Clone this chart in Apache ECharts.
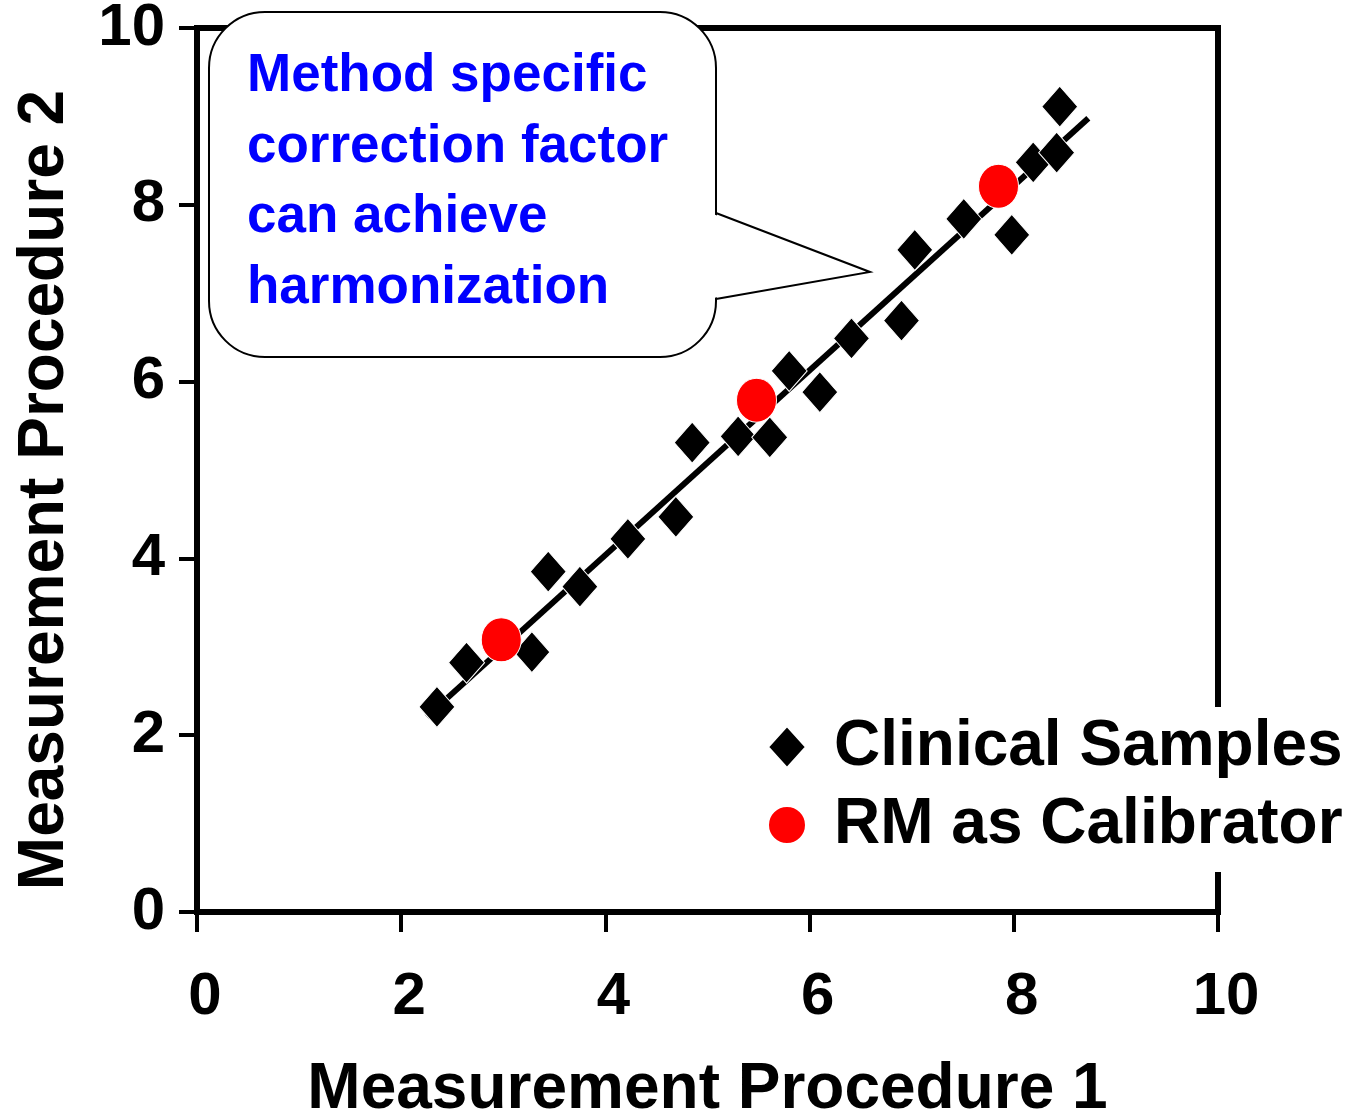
<!DOCTYPE html>
<html><head><meta charset="utf-8">
<script src="https://cdn.jsdelivr.net/npm/echarts@6/dist/echarts.min.js"></script>
<style>html,body{margin:0;padding:0;background:#fff}#c{width:1349px;height:1115px}</style>
</head><body><div id="c"></div>
<script>
const clinicalX = [2.35, 2.64, 3.28, 3.44, 3.75, 4.22, 4.69, 4.85, 5.30, 5.61, 5.80, 6.10, 6.41, 6.90, 7.03, 7.51, 7.98, 8.19, 8.42, 8.45];
const clinicalY = [2.32, 2.82, 2.94, 3.85, 3.68, 4.22, 4.47, 5.31, 5.38, 5.37, 6.12, 5.88, 6.49, 6.69, 7.49, 7.84, 7.66, 8.48, 8.59, 9.11];
const rmX = [2.98, 5.48, 7.85];
const rmY = [3.08, 5.79, 8.21];
const fitX = [2.25, 8.73];
const fitY = [2.21, 8.98];
const axisMin = 0, axisMax = 10, axisStep = 2;
const xTitle = 'Measurement Procedure 1';
const yTitle = 'Measurement Procedure 2';
const seriesNames = ['Clinical Samples', 'RM as Calibrator'];
const calloutLines = ['Method specific', 'correction factor', 'can achieve', 'harmonization'];

const FONT = '"Liberation Sans", Arial, sans-serif';
const zip = (a, b) => a.map((v, i) => [v, b[i]]);
const ellipse = 'path://M50,0A50,50,0,1,1,50,100A50,50,0,1,1,50,0Z';

const chart = echarts.init(document.getElementById('c'), null, {renderer: 'canvas'});
const bx0 = 209, bx1 = 716, by0 = 12, by1 = 357;

chart.setOption({
  animation: false,
  backgroundColor: '#fff',
  textStyle: {fontFamily: FONT},
  grid: {left: 197, right: 131, top: 28, bottom: 203, outerBoundsMode: 'none', containLabel: false, show: true, borderColor: '#000', borderWidth: 6, backgroundColor: 'transparent'},
  xAxis: {
    type: 'value', min: axisMin, max: axisMax, interval: axisStep,
    name: xTitle, nameLocation: 'middle', nameGap: 146,
    nameTextStyle: {fontSize: 64, fontWeight: 'bold', color: '#000', fontFamily: FONT},
    axisLine: {show: true, onZero: false, lineStyle: {color: '#000', width: 6}},
    axisTick: {show: true, length: 20, lineStyle: {color: '#000', width: 4}},
    axisLabel: {fontSize: 60, fontWeight: 'bold', color: '#000', margin: 55, fontFamily: FONT, padding: [0, 0, 0, 16]},
    splitLine: {show: false}
  },
  yAxis: {
    type: 'value', min: axisMin, max: axisMax, interval: axisStep,
    name: yTitle, nameLocation: 'middle', nameGap: 120,
    nameTextStyle: {fontSize: 64, fontWeight: 'bold', color: '#000', fontFamily: FONT, padding: [0, 40, 0, 0]},
    axisLine: {show: true, onZero: false, lineStyle: {color: '#000', width: 6}},
    axisTick: {show: true, length: 18, lineStyle: {color: '#000', width: 4}},
    axisLabel: {fontSize: 60, fontWeight: 'bold', color: '#000', margin: 32, fontFamily: FONT},
    splitLine: {show: false}
  },
  legend: {
    orient: 'vertical', left: 767, top: 707,
    itemWidth: 38, itemHeight: 42, itemGap: 14,
    padding: [8, 9, 15, 0],
    backgroundColor: '#fff',
    selectedMode: false,
    textStyle: {fontSize: 64, fontWeight: 'bold', color: '#000', fontFamily: FONT, padding: [0, 0, 0, 23]},
    data: seriesNames
  },
  series: [
    {
      type: 'line', data: zip(fitX, fitY), showSymbol: false, symbol: 'none',
      lineStyle: {color: '#000', width: 6}, z: 2, silent: true
    },
    {
      name: seriesNames[0], type: 'scatter', data: zip(clinicalX, clinicalY),
      symbol: 'diamond', symbolSize: [36, 41],
      itemStyle: {color: '#000', borderColor: '#fff', borderWidth: 1, opacity: 1}, z: 3
    },
    {
      name: seriesNames[1], type: 'scatter', data: zip(rmX, rmY),
      symbol: ellipse, symbolSize: [40, 44], symbolKeepAspect: false,
      itemStyle: {color: '#ff0000', borderColor: '#fff', borderWidth: 1, opacity: 1}, z: 4
    }
  ],
  graphic: [
    {type: 'rect', z: 100, shape: {x: bx0, y: by0, width: bx1 - bx0, height: by1 - by0, r: 56}, style: {fill: '#fff', stroke: '#000', lineWidth: 2}},
    {type: 'polygon', z: 101, shape: {points: [[bx1 - 3, 214], [870, 272], [bx1 - 3, 298]]}, style: {fill: '#fff', stroke: null}},
    {type: 'polyline', z: 102, shape: {points: [[bx1, 213], [870, 272], [bx1, 299]]}, style: {stroke: '#000', lineWidth: 2, fill: null}},
    {type: 'text', z: 103, x: 247, y: 41, style: {text: calloutLines.join('\n'), font: `bold 53px ${FONT}`, fill: '#0000ff', lineHeight: 70.7, verticalAlign: 'top', align: 'left'}}
  ]
});
</script></body></html>
